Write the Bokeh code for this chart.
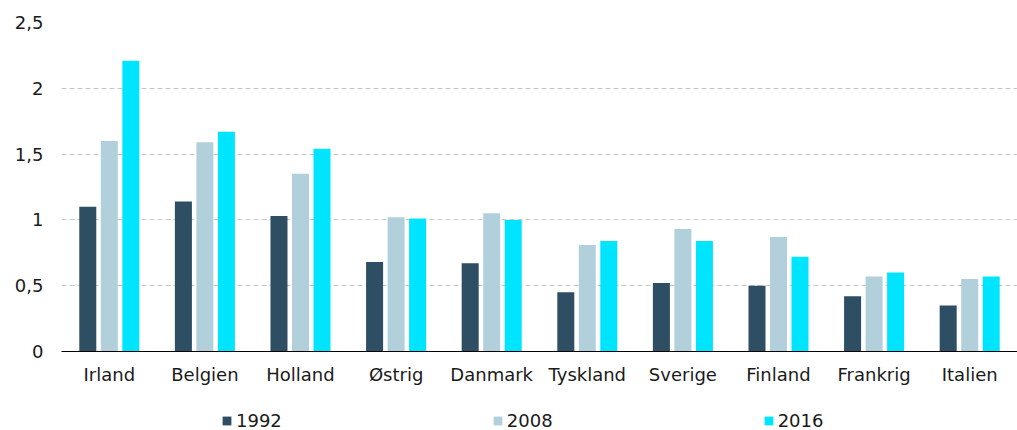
from bokeh.plotting import figure
from bokeh.layouts import column
from bokeh.models import ColumnDataSource, FactorRange, Range1d, FixedTicker, Legend, LegendItem
from bokeh.transform import dodge
from bokeh.embed import file_html
from bokeh.resources import INLINE

countries = ["Irland", "Belgien", "Holland", "Østrig", "Danmark", "Tyskland",
             "Sverige", "Finland", "Frankrig", "Italien"]
v1992 = [1.10, 1.14, 1.03, 0.68, 0.67, 0.45, 0.52, 0.50, 0.42, 0.35]
v2008 = [1.60, 1.59, 1.35, 1.02, 1.05, 0.81, 0.93, 0.87, 0.57, 0.55]
v2016 = [2.21, 1.67, 1.54, 1.01, 1.00, 0.84, 0.84, 0.72, 0.60, 0.57]
series = ["1992", "2008", "2016"]
colors = ["#2D4E63", "#B1D0DB", "#00E5FF"]
y_ticks = [0, 0.5, 1, 1.5, 2, 2.5]
y_labels = ["0", "0,5", "1", "1,5", "2", "2,5"]

FONT = "DejaVu Sans"
TEXT = "#1a1a1a"

source = ColumnDataSource(dict(country=countries, s1992=v1992, s2008=v2008, s2016=v2016))
offsets = [-0.225, 0.0, 0.225]
cols = ["s1992", "s2008", "s2016"]

# ---- main chart ----
p = figure(x_range=FactorRange(*countries, range_padding=0), y_range=Range1d(0, 2.5),
           width=1017, height=392, output_backend="svg", toolbar_location=None,
           min_border_left=61, min_border_right=0, min_border_top=22, min_border_bottom=41)
p.outline_line_color = None
p.background_fill_color = "white"
p.border_fill_color = "white"

for off, col, c in zip(offsets, cols, colors):
    p.vbar(x=dodge("country", off, range=p.x_range), top=col, width=0.178,
           source=source, fill_color=c, line_color=None)

p.xgrid.grid_line_color = None
p.ygrid.grid_line_color = "#c8c8c8"
p.ygrid.grid_line_dash = "5 3"
p.ygrid.grid_line_width = 1

p.yaxis.ticker = FixedTicker(ticks=y_ticks)
p.yaxis.major_label_overrides = {float(t): l for t, l in zip(y_ticks, y_labels)}
p.yaxis.axis_line_color = None
p.yaxis.major_tick_line_color = None
p.yaxis.minor_tick_line_color = None
p.yaxis.major_tick_out = 0
p.yaxis.major_label_standoff = 18
p.yaxis.major_label_text_font = FONT
p.yaxis.major_label_text_font_size = "18px"
p.yaxis.major_label_text_color = TEXT

p.xaxis.axis_line_color = "#000000"
p.xaxis.axis_line_width = 1.2
p.xaxis.major_tick_line_color = None
p.xaxis.minor_tick_line_color = None
p.xaxis.major_tick_out = 0
p.xaxis.major_label_standoff = 12
p.xaxis.major_label_text_font = FONT
p.xaxis.major_label_text_font_size = "18px"
p.xaxis.major_label_text_color = TEXT

# ---- legend strip (same data; bars fall below its visible y range) ----
lg = figure(x_range=p.x_range, y_range=Range1d(3, 4), width=1017, height=38,
            output_backend="svg", toolbar_location=None,
            x_axis_location=None, y_axis_location=None,
            min_border_left=61, min_border_right=0, min_border_top=0, min_border_bottom=0)
lg.outline_line_color = None
lg.grid.visible = False
lg.background_fill_color = "white"
lg.border_fill_color = "white"

items = []
for s, off, col, c in zip(series, offsets, cols, colors):
    r = lg.vbar(x=dodge("country", off, range=lg.x_range), top=col, width=0.178,
                source=source, fill_color=c, line_color=None)
    items.append(LegendItem(label=s, renderers=[r]))

legend = Legend(items=items, orientation="horizontal", location=(160, -1),
                padding=0, margin=0, spacing=210,
                glyph_width=11, glyph_height=11, label_height=11, label_standoff=4,
                label_text_font=FONT, label_text_font_size="18px", label_text_color=TEXT,
                border_line_color=None, background_fill_alpha=0)
lg.add_layout(legend, "center")

lay = column(p, lg, spacing=0)
open("out.html", "w").write(file_html(lay, INLINE))
